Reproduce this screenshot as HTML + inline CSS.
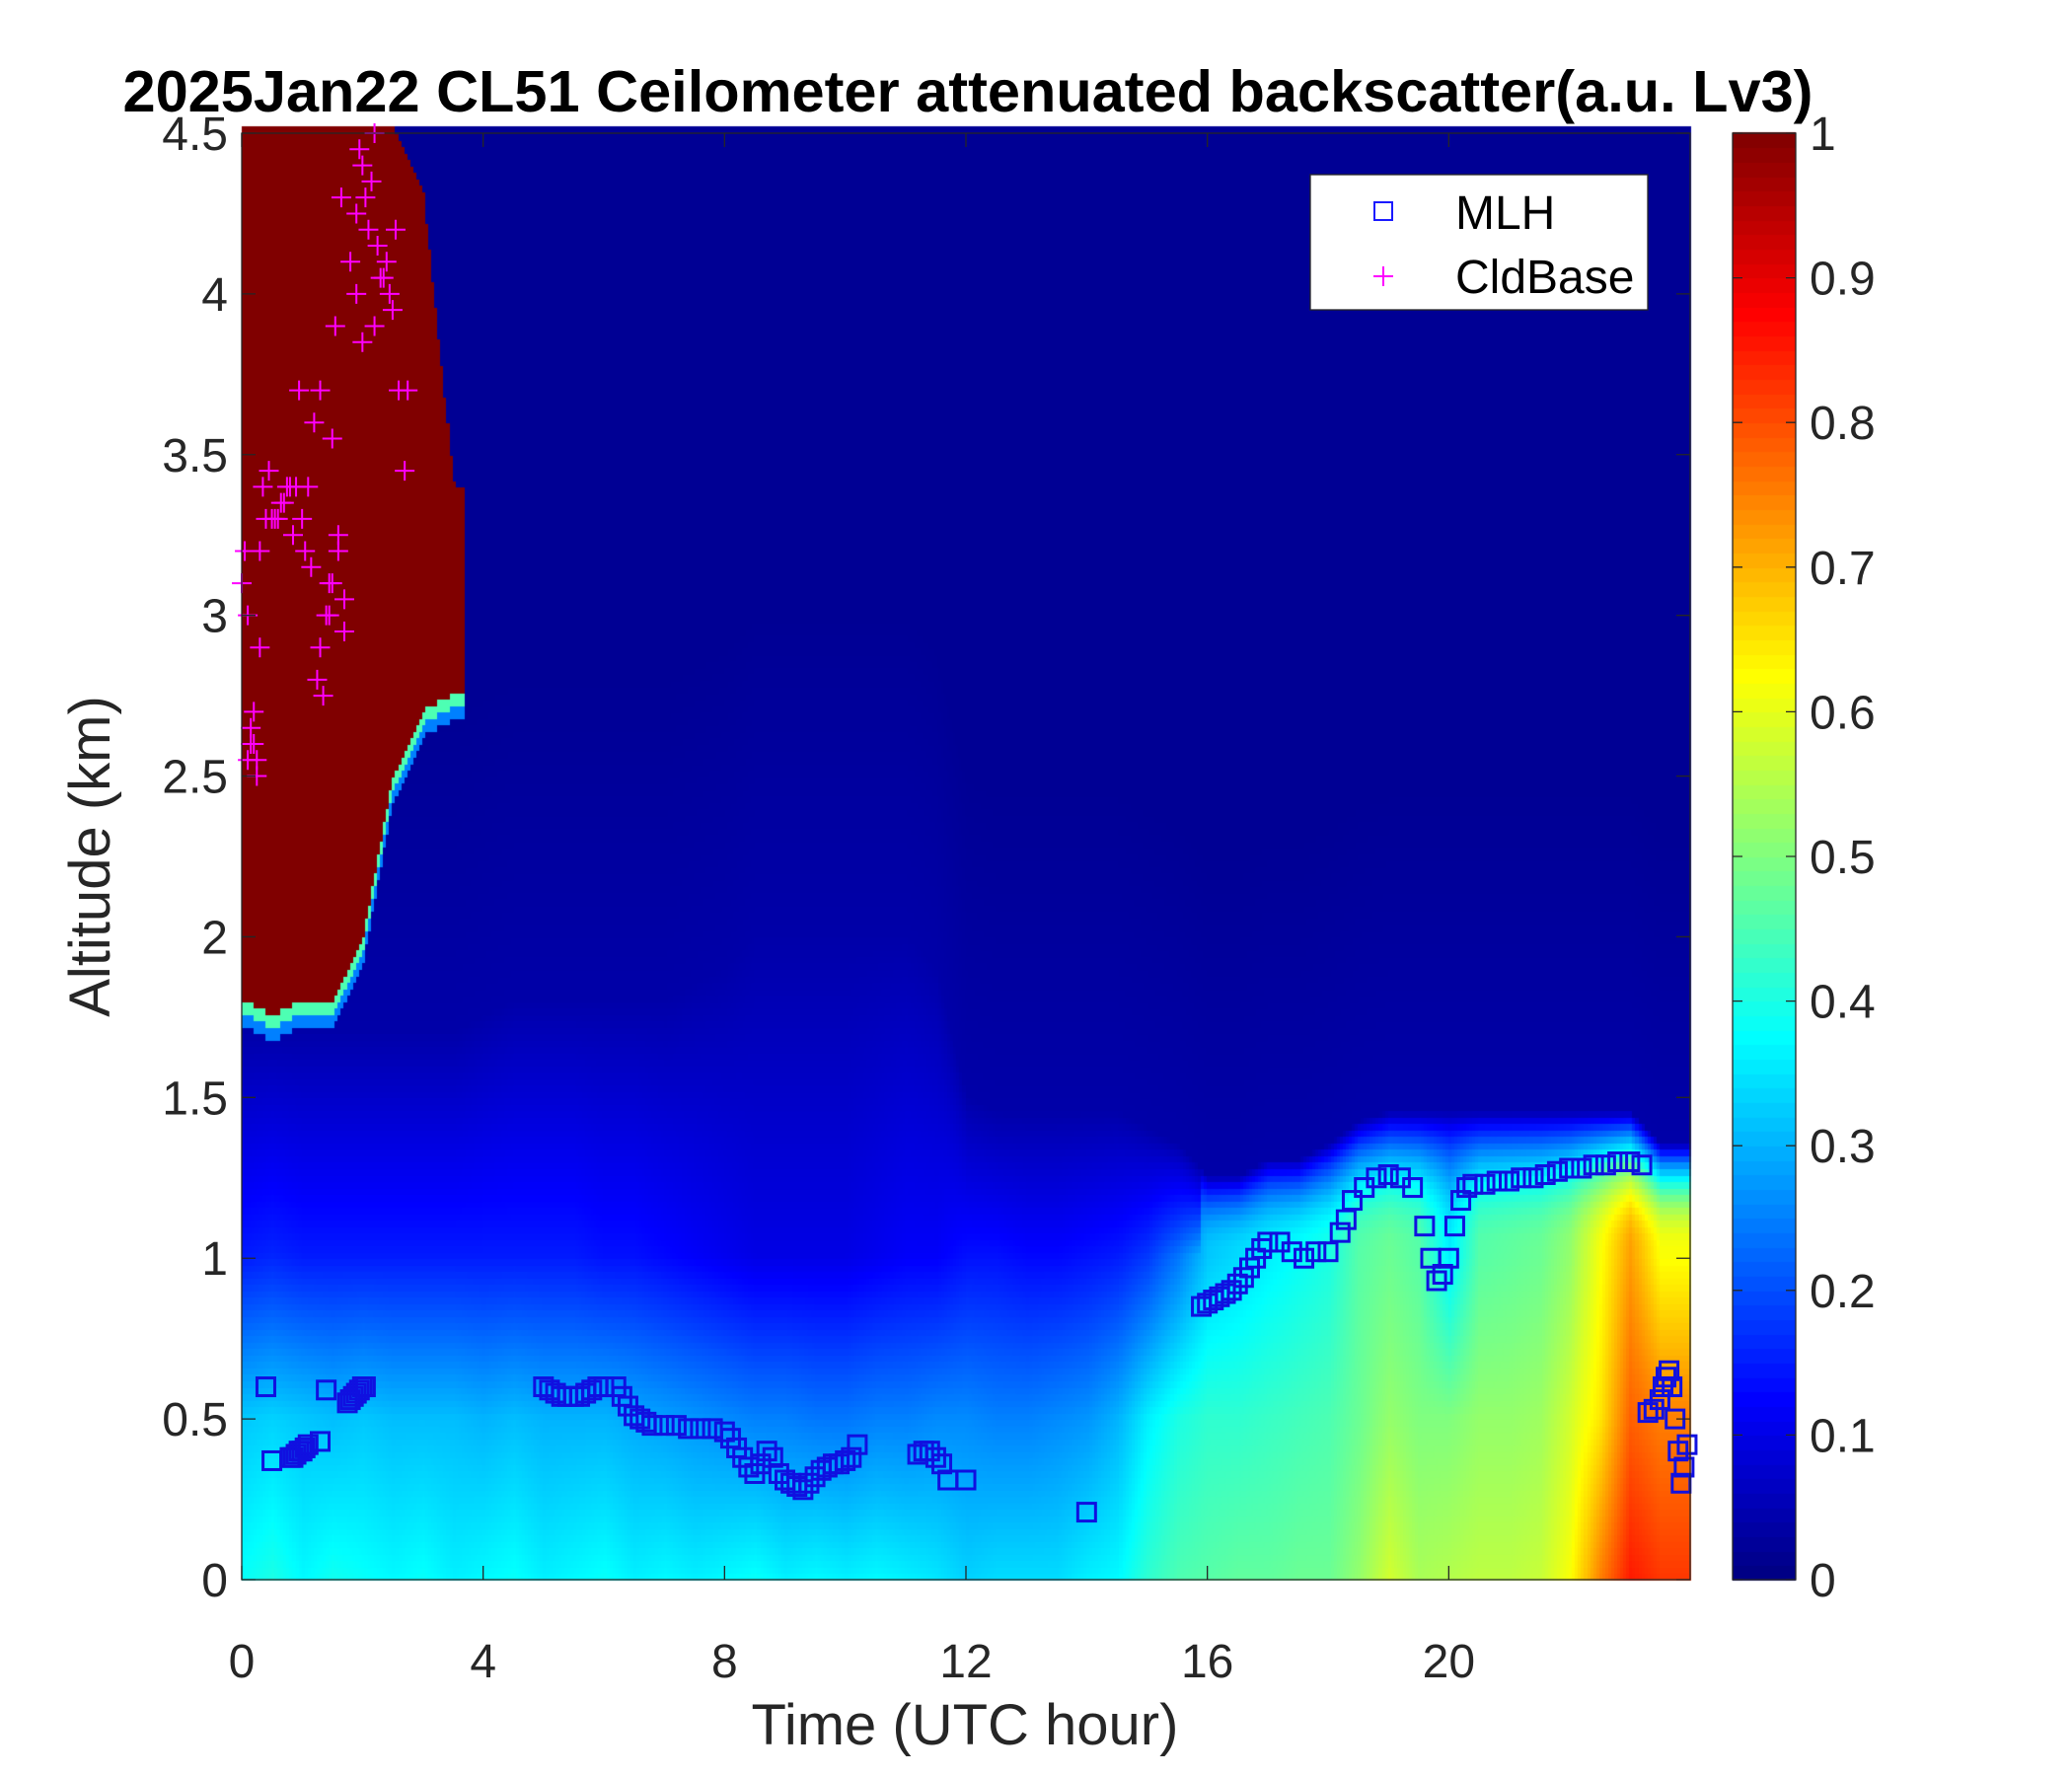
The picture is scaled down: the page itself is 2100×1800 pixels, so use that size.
<!DOCTYPE html>
<html><head><meta charset="utf-8">
<style>
html,body{margin:0;padding:0;background:#fff;}
#wrap{position:relative;width:2100px;height:1800px;overflow:hidden;font-family:"Liberation Sans",Arial,sans-serif;}
canvas{position:absolute;left:0;top:0;}
</style></head>
<body>
<div id="wrap">
<canvas id="c" width="2100" height="1800"></canvas>
<svg id="s" width="2100" height="1800" style="position:absolute;left:0;top:0"></svg>
</div>
<script>
// ---- data (per 0.5 h, 48 columns) ----
const times = [0,0.5,1,1.5,2,2.5,3,3.5,4,4.5,5,5.5,6,6.5,7,7.5,8,8.5,9,9.5,10,10.5,11,11.5,12,12.5,13,13.5,14,14.5,15,15.5,16,16.5,17,17.5,18,18.5,19,19.5,20,20.5,21,21.5,22,22.5,23,23.5];
const surfVal = [0.38,0.4,0.37,0.39,0.38,0.37,0.38,0.36,0.37,0.38,0.36,0.37,0.38,0.36,0.37,0.36,0.37,0.38,0.36,0.37,0.36,0.37,0.36,0.35,0.33,0.34,0.34,0.34,0.36,0.37,0.42,0.45,0.46,0.47,0.47,0.48,0.48,0.52,0.58,0.54,0.55,0.56,0.56,0.57,0.62,0.75,0.85,0.82];
const midVal = [0.32,0.33,0.32,0.31,0.32,0.31,0.31,0.31,0.3,0.31,0.3,0.3,0.3,0.29,0.28,0.27,0.26,0.25,0.25,0.24,0.24,0.25,0.25,0.26,0.26,0.25,0.25,0.26,0.27,0.3,0.36,0.4,0.42,0.42,0.43,0.44,0.45,0.48,0.52,0.5,0.5,0.52,0.52,0.53,0.58,0.65,0.78,0.75];
const kmVal = [0.15,0.16,0.15,0.15,0.15,0.15,0.15,0.15,0.15,0.15,0.15,0.15,0.14,0.14,0.13,0.12,0.11,0.1,0.1,0.1,0.1,0.11,0.12,0.12,0.14,0.14,0.13,0.13,0.14,0.15,0.18,0.24,0.32,0.34,0.36,0.38,0.4,0.46,0.48,0.46,0.36,0.46,0.47,0.48,0.52,0.62,0.72,0.62];
const topH = [1.7,1.7,1.7,1.7,1.7,1.7,1.7,1.7,1.75,1.8,1.8,1.8,1.8,1.8,1.8,1.85,1.9,2.0,2.0,2.0,2.0,2.0,2.0,1.9,1.5,1.45,1.45,1.45,1.45,1.45,1.4,1.35,1.25,1.25,1.3,1.3,1.35,1.42,1.45,1.45,1.45,1.45,1.45,1.45,1.45,1.45,1.45,1.35];
const cloudBase = [1.8,1.75,1.8,1.8,2.0,2.5,2.7,2.75,null,null,null,null,null,null,null,null,null,null,null,null,null,null,null,null,null,null,null,null,null,null,null,null,null,null,null,null,null,null,null,null,null,null,null,null,null,null,null,null];
const cloudTop = [4.5,4.5,4.5,4.5,4.5,4.5,4.3,3.4,null,null,null,null,null,null,null,null,null,null,null,null,null,null,null,null,null,null,null,null,null,null,null,null,null,null,null,null,null,null,null,null,null,null,null,null,null,null,null,null];
const mlhT = [0.4,0.5,0.8,0.85,0.9,0.95,1.0,1.05,1.1,1.3,1.4,1.75,1.8,1.85,1.9,1.95,2.0,2.05,5.0,5.1,5.2,5.3,5.4,5.5,5.6,5.7,5.8,5.9,6.0,6.2,6.3,6.4,6.5,6.6,6.7,6.8,7.0,7.2,7.4,7.6,7.8,8.0,8.1,8.2,8.3,8.4,8.5,8.6,8.7,8.8,8.9,9.0,9.1,9.2,9.3,9.4,9.5,9.6,9.7,9.8,9.9,10.0,10.1,10.2,11.2,11.3,11.4,11.5,11.6,11.7,12.0,14.0,15.9,16.0,16.1,16.2,16.3,16.4,16.5,16.6,16.7,16.8,16.9,17.0,17.2,17.4,17.6,17.8,18.0,18.2,18.3,18.4,18.6,18.8,19.0,19.2,19.4,19.6,19.7,19.8,19.9,20.0,20.1,20.2,20.3,20.4,20.6,20.8,21.0,21.2,21.4,21.6,21.8,22.0,22.2,22.4,22.6,22.8,23.0,23.2,23.3,23.4,23.5,23.55,23.6,23.65,23.7,23.75,23.8,23.85,23.9,23.95];
const mlhH = [0.6,0.37,0.38,0.38,0.39,0.4,0.4,0.41,0.42,0.43,0.59,0.55,0.56,0.57,0.58,0.59,0.6,0.6,0.6,0.59,0.58,0.57,0.57,0.57,0.57,0.58,0.59,0.6,0.6,0.6,0.57,0.54,0.51,0.5,0.49,0.48,0.48,0.48,0.47,0.47,0.47,0.46,0.44,0.41,0.38,0.35,0.33,0.36,0.4,0.38,0.33,0.31,0.3,0.29,0.28,0.3,0.32,0.34,0.35,0.36,0.36,0.37,0.38,0.42,0.39,0.4,0.4,0.38,0.36,0.31,0.31,0.21,0.85,0.86,0.87,0.88,0.89,0.9,0.92,0.94,0.97,1.0,1.03,1.05,1.05,1.02,1.0,1.02,1.02,1.08,1.12,1.18,1.22,1.25,1.26,1.25,1.22,1.1,1.0,0.93,0.95,1.0,1.1,1.18,1.22,1.23,1.23,1.24,1.24,1.25,1.25,1.26,1.27,1.28,1.28,1.29,1.29,1.3,1.3,1.29,0.52,0.53,0.56,0.6,0.63,0.65,0.6,0.5,0.4,0.3,0.35,0.42,0.48,0.5];
const cbT = [0.0,0.05,0.1,0.15,0.2,0.25,0.3,0.4,0.5,0.6,0.7,0.8,0.9,1.0,1.1,1.2,1.3,1.4,1.5,1.6,1.7,1.8,1.9,2.0,2.1,2.2,2.3,2.4,2.5,2.6,2.7,0.2,0.35,1.25,1.45,1.55,1.65,1.95,2.05,2.25,2.45,2.55,2.75,0.3,0.25,0.45,1.35,1.45,0.55,0.65,0.75,1.15,1.05,1.6,1.7,1.9,2.15,2.35,0.15,0.1,1.3,1.5,2.0,2.2,0.85,0.95];
const cbH = [3.1,3.2,3.0,2.6,2.7,2.5,3.2,3.3,3.3,3.3,3.35,3.4,3.4,3.3,3.4,3.6,3.7,3.0,3.1,3.2,2.95,4.1,4.0,3.85,4.2,3.9,4.05,4.1,3.95,3.7,3.45,2.6,3.4,2.8,3.1,3.9,4.3,4.45,4.3,4.15,4.0,4.2,3.7,2.9,2.55,3.45,2.75,3.0,3.3,3.35,3.4,3.15,3.2,3.25,3.05,4.25,4.35,4.05,2.65,2.55,2.9,3.55,4.4,4.5,3.25,3.7];
const xTicks = [0,4,8,12,16,20];
const yTicks = [0,0.5,1,1.5,2,2.5,3,3.5,4,4.5];
const cTicks = [0,0.1,0.2,0.3,0.4,0.5,0.6,0.7,0.8,0.9,1];

const L=245,R=1713,T=135,B=1601;
const X=t=>L+t/24*(R-L), Y=h=>B-h/4.5*(B-T);
const CB={l:1756,r:1820};
const CY=v=>B-v*(B-T);

function jet(v){v=Math.max(0,Math.min(1,v));
 const r=Math.max(0,Math.min(1,1.5-Math.abs(4*v-3)));
 const g=Math.max(0,Math.min(1,1.5-Math.abs(4*v-2)));
 const b=Math.max(0,Math.min(1,1.5-Math.abs(4*v-1)));
 return `rgb(${Math.round(r*255)},${Math.round(g*255)},${Math.round(b*255)})`;}
function interp(arr,t){const i=Math.min(arr.length-1,Math.floor(t/0.5));const j=Math.min(arr.length-1,i+1);const f=(t-i*0.5)/0.5;
 if(arr[i]==null) return null; if(arr[j]==null) return f<0.3?arr[i]:null;return arr[i]*(1-f)+arr[j]*f;}

const ctx=document.getElementById('c').getContext('2d');
ctx.fillStyle='#fff';ctx.fillRect(0,0,2100,1800);
const dt=0.05,dz=0.02;
for(let t=0;t<24;t+=dt){
 const s=interp(surfVal,t),m=interp(midVal,t),k=interp(kmVal,t),th=interp(topH,t);
 const cb=interp(cloudBase,t),ct=interp(cloudTop,t);
 const sharp = k>0.3;
 for(let z=0;z<4.5;z+=dz){
  let v;
  if(z<0.5) v=s+(m-s)*z/0.5;
  else if(z<1) v=m+(k-m)*(z-0.5)/0.5;
  else if(z<th){ const f=(z-1)/(th-1); v=k+(0.04-k)*(sharp?Math.pow(f,2.2):f); }
  else v=Math.max(0.02,0.04-(z-th)*0.02);
  if(cb!=null&&z>=cb&&z<=ct) v=1;
  else if(cb!=null&&z<cb&&cb-z<0.04) v=0.45;
  else if(cb!=null&&z<cb&&cb-z<0.08) v=0.25;
  ctx.fillStyle=jet(v);
  ctx.fillRect(Math.floor(X(t)),Math.floor(Y(z+dz)),Math.ceil(X(t+dt)-X(t))+1,Math.ceil(Y(z)-Y(z+dz))+1);
 }
}
for(let v=0;v<1;v+=0.01){ctx.fillStyle=jet(v+0.005);ctx.fillRect(CB.l,Math.floor(CY(v+0.01)),CB.r-CB.l,Math.ceil(CY(v)-CY(v+0.01))+1);}

const svg=document.getElementById('s');const NS='http://www.w3.org/2000/svg';
function el(tag,attrs,parent){const e=document.createElementNS(NS,tag);for(const k in attrs)e.setAttribute(k,attrs[k]);(parent||svg).appendChild(e);return e;}
function txt(x,y,str,attrs){const e=el('text',Object.assign({x:x,y:y,'font-family':'Liberation Sans, Arial, sans-serif',fill:'#262626'},attrs));e.textContent=str;return e;}

const mg=el('g',{});


mlhT.forEach((t,i)=>{const r=el('rect',{x:X(t)-9,y:Y(mlhH[i])-9,width:18,height:18,fill:'none',stroke:'#1010e0','stroke-width':3},mg);
 
 });
const cg=el('g',{});


cbT.forEach((t,i)=>{const x=X(t),y=Y(cbH[i]);const p=el('path',{d:`M${x-10} ${y}H${x+10}M${x} ${y-10}V${y+10}`,stroke:'#ff00ff','stroke-width':2},cg);
 
 });

const ax=el('rect',{x:L,y:T,width:R-L,height:B-T,fill:'none',stroke:'#262626','stroke-width':1.3});


xTicks.forEach(t=>{el('path',{d:`M${X(t)} ${B}v-14M${X(t)} ${T}v14`,stroke:'#262626','stroke-width':1.3});
 const e=txt(X(t),1700,String(t),{'font-size':48,'text-anchor':'middle'});
 
 });
yTicks.forEach(h=>{el('path',{d:`M${L} ${Y(h)}h14M${R} ${Y(h)}h-14`,stroke:'#262626','stroke-width':1.3});
 const e=txt(L-14,Y(h)+17,String(h),{'font-size':48,'text-anchor':'end'});
 
 });
const cbf=el('rect',{x:CB.l,y:T,width:CB.r-CB.l,height:B-T,fill:'none',stroke:'#262626','stroke-width':1.3});


cTicks.forEach(v=>{el('path',{d:`M${CB.r} ${CY(v)}h-10M${CB.l} ${CY(v)}h10`,stroke:'#262626','stroke-width':1.3});
 const e=txt(CB.r+14,CY(v)+17,String(v),{'font-size':48});
 
 });

const ti=txt(981,113,'2025Jan22 CL51 Ceilometer attenuated backscatter(a.u. Lv3)',{'font-size':59.5,'font-weight':'bold','text-anchor':'middle',fill:'#000'});


const xl=txt(978,1768,'Time (UTC hour)',{'font-size':58,'text-anchor':'middle'});


const yl=txt(0,0,'Altitude (km)',{'font-size':58,'text-anchor':'middle',transform:'translate(111,868) rotate(-90)'});



const lg=el('g',{});


el('rect',{x:1328,y:177,width:342,height:137,fill:'#fff',stroke:'#262626','stroke-width':1.3},lg);
el('rect',{x:1393,y:205,width:18,height:18,fill:'none',stroke:'#1a1aff','stroke-width':2},lg);
el('path',{d:'M1392 280h20M1402 270v20',stroke:'#ff00ff','stroke-width':2},lg);
const l1=txt(1475,232,'MLH',{'font-size':48,fill:'#000'},lg);


const l2=txt(1475,297,'CldBase',{'font-size':48,fill:'#000'},lg);


</script>
</body></html>
